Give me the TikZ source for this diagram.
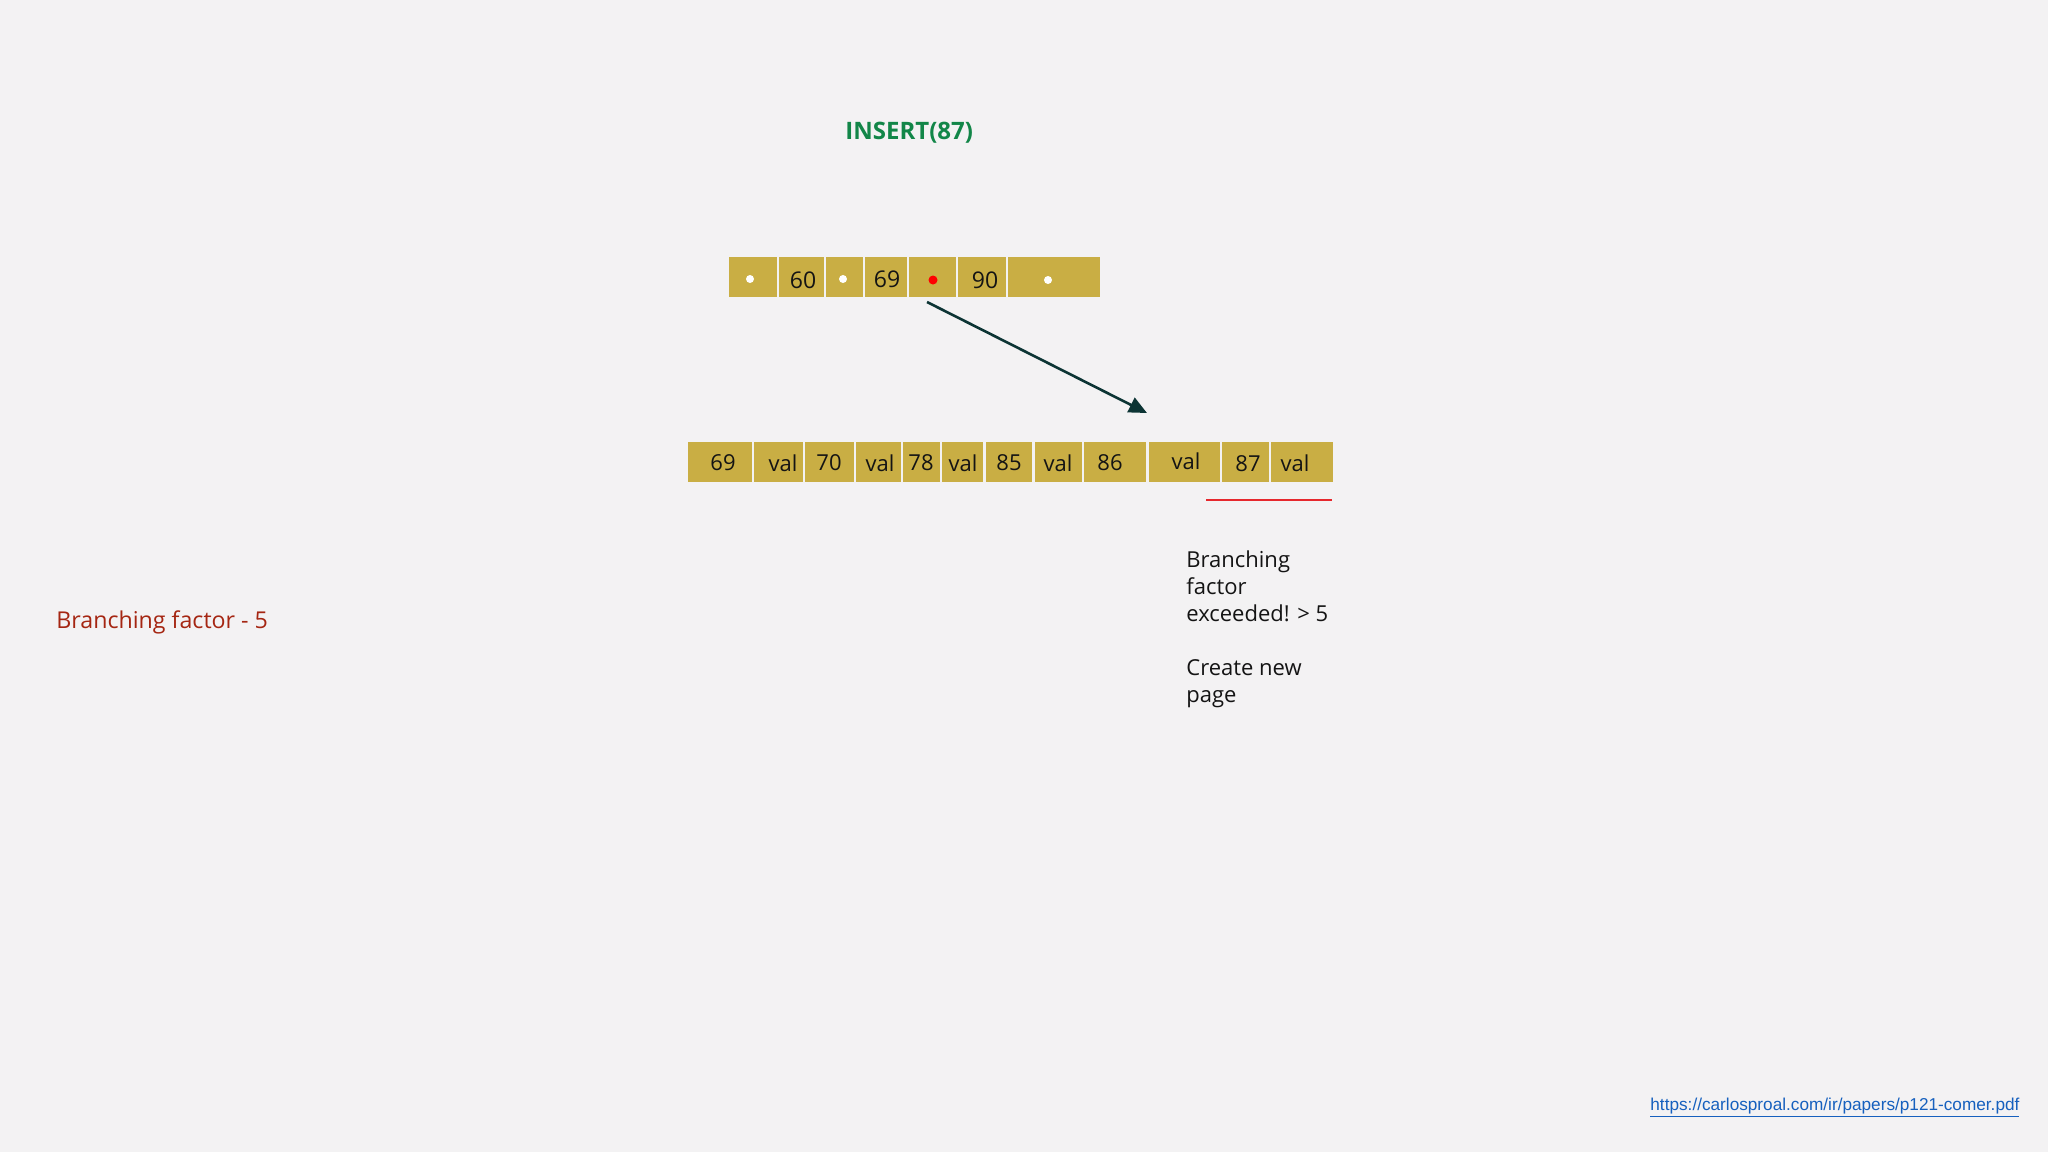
\documentclass[tikz,border=0pt]{standalone}
\usepackage{fontspec}
\setmainfont{Open Sans}
\newfontfamily\urlfont{Liberation Sans}
\usetikzlibrary{arrows.meta}
\definecolor{bg}{RGB}{243,242,243}
\definecolor{gold}{RGB}{201,174,68}
\definecolor{ins}{RGB}{18,134,72}
\definecolor{bfred}{RGB}{165,38,18}
\definecolor{arrc}{RGB}{12,52,52}
\definecolor{lnred}{RGB}{230,40,45}
\definecolor{urlc}{RGB}{22,96,190}
\definecolor{ink}{RGB}{20,20,20}
\begin{document}
\begin{tikzpicture}[x=0.5pt,y=-0.5pt]
\tikzset{
  cell/.style={rectangle, fill=gold, draw=none, inner sep=0pt, minimum height=20pt},
  toptxt/.style={inner sep=0pt, font=\fontsize{11.5}{13}\selectfont, text=ink},
  bottxt/.style={inner sep=0pt, font=\fontsize{11}{13}\selectfont, text=ink},
  wdot/.style={circle, fill=white, draw=none, inner sep=0pt, minimum size=4pt},
  rdot/.style={circle, fill=red, draw=none, inner sep=0pt, minimum size=4.5pt},
  arr/.style={draw=arrc, line width=1.3pt, -{Triangle[length=9pt,width=8pt]}},
  note/.style={inner sep=0pt, align=left, text=ink, font=\fontsize{11}{13.5}\selectfont}
}
\fill[bg] (0,0) rectangle (2048,1152);
\useasboundingbox (0,0) rectangle (2048,1152);

% title
\node[anchor=base west, inner sep=0pt, text=ins, font=\fontsize{12}{14}\selectfont\bfseries] (title) at (845,139) {INSERT(87)};

% top page
\node[cell, minimum width=24pt]   (t1) at (753,277) {};
\node[cell, minimum width=22.5pt] (t2) at (801.5,277) {};
\node[cell, minimum width=18.5pt] (t3) at (844.5,277) {};
\node[cell, minimum width=21pt]   (t4) at (886,277) {};
\node[cell, minimum width=23.5pt] (t5) at (932.5,277) {};
\node[cell, minimum width=24pt]   (t6) at (982,277) {};
\node[cell, minimum width=46pt]   (t7) at (1054,277) {};
\node[wdot] (d1) at (750,279) {};
\node[toptxt] (k60) at (803,280) {60};
\node[wdot] (d2) at (843,279) {};
\node[toptxt] (k69) at (887,279) {69};
\node[rdot] (d3) at (933,280) {};
\node[toptxt] (k90) at (985,280) {90};
\node[wdot] (d4) at (1048,280) {};

% bottom page
\node[cell, minimum width=32pt]   (b1) at (720,462) {};
\node[cell, minimum width=24.5pt] (b2) at (778.5,462) {};
\node[cell, minimum width=24.5pt] (b3) at (829.5,462) {};
\node[cell, minimum width=22.5pt] (b4) at (878.5,462) {};
\node[cell, minimum width=18.5pt] (b5) at (921.5,462) {};
\node[cell, minimum width=20.5pt] (b6) at (962.5,462) {};
\node[cell, minimum width=23pt]   (b7) at (1009,462) {};
\node[cell, minimum width=23.5pt] (b8) at (1058.5,462) {};
\node[cell, minimum width=31pt]   (b9) at (1115,462) {};
\node[cell, minimum width=35.5pt] (b10) at (1184.5,462) {};
\node[cell, minimum width=23.5pt] (b11) at (1245.5,462) {};
\node[cell, minimum width=31pt]   (b12) at (1302,462) {};
\node[bottxt] (l1) at (723,463) {69};
\node[bottxt] (l2) at (783,463) {val};
\node[bottxt] (l3) at (829,463) {70};
\node[bottxt] (l4) at (880,463) {val};
\node[bottxt] (l5) at (921,463) {78};
\node[bottxt] (l6) at (963,463) {val};
\node[bottxt] (l7) at (1009,463) {85};
\node[bottxt] (l8) at (1058,463) {val};
\node[bottxt] (l9) at (1110,463) {86};
\node[bottxt] (l10) at (1186,461) {val};
\node[bottxt] (l11) at (1248,464) {87};
\node[bottxt] (l12) at (1295,463) {val};

% arrow from pointer to leaf page
\coordinate (as) at (927,302);
\coordinate (ae) at (1147,413);
\draw[arr] (as) -- (ae);

% red underline
\coordinate (r1) at (1206,500);
\coordinate (r2) at (1332,500);
\draw[lnred, line width=1pt] (r1) -- (r2);

% notes
\node[note, anchor=base west] (exc) at (1186,702) {Branching\\factor\\exceeded! > 5\\[13.5pt]Create new\\page};
\node[anchor=base west, inner sep=0pt, text=bfred, font=\fontsize{11.6}{14}\selectfont] (bf) at (56,628) {Branching factor - 5};
\node[anchor=base west, inner sep=0pt, text=urlc, font=\urlfont\fontsize{8.6}{10}\selectfont] (url) at (1650,1110) {\underline{https://carlosproal.com/ir/papers/p121-comer.pdf}};
\end{tikzpicture}
\end{document}
